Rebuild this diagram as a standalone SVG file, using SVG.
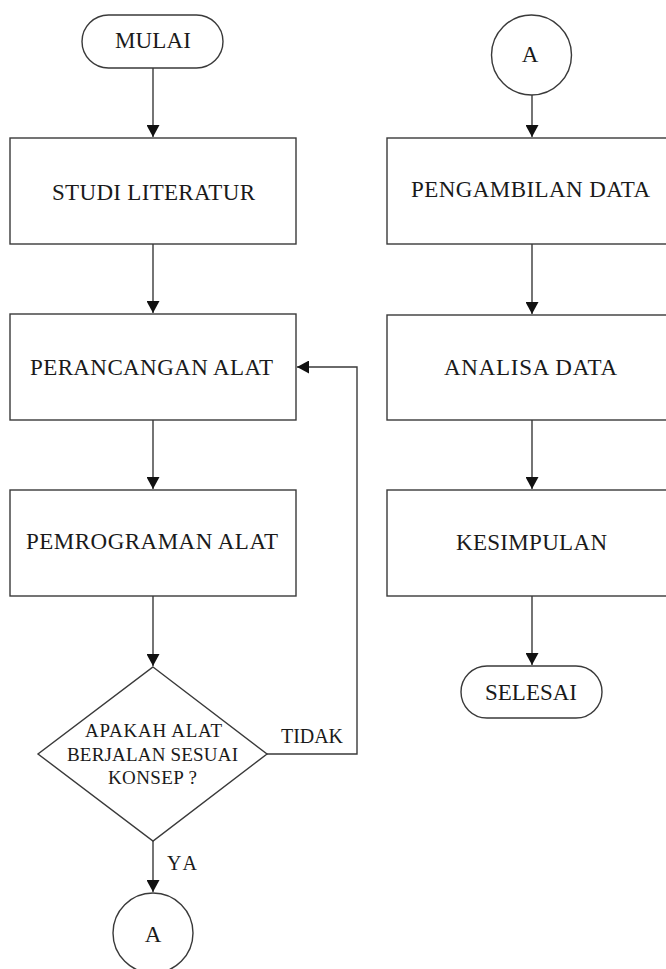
<svg xmlns="http://www.w3.org/2000/svg" width="666" height="969" viewBox="0 0 666 969">
<style>
.s{fill:#fff;stroke:#3a3a3a;stroke-width:1.4}
.t{font-family:'Liberation Serif','Times New Roman','DejaVu Serif',serif;font-size:23px;fill:#1a1a1a;text-anchor:middle}
.d{font-size:19px}
.l{font-size:20px}
.c{fill:none;stroke:#3a3a3a;stroke-width:1.4}
</style>
<defs>
<marker id="ah" markerWidth="13" markerHeight="13" refX="12" refY="6.5" orient="auto" markerUnits="userSpaceOnUse">
<path d="M0,0 L12,6.5 L0,13 Z" fill="#111"/>
</marker>
</defs>
<rect width="666" height="969" fill="#fff"/>
<g id="connectors">
<line class="c" x1="153" y1="68" x2="153" y2="137" marker-end="url(#ah)"/>
<line class="c" x1="153" y1="244" x2="153" y2="313" marker-end="url(#ah)"/>
<line class="c" x1="153" y1="420" x2="153" y2="489" marker-end="url(#ah)"/>
<line class="c" x1="153" y1="596" x2="153" y2="666" marker-end="url(#ah)"/>
<line class="c" x1="153" y1="841" x2="153" y2="892" marker-end="url(#ah)"/>
<polyline class="c" points="267,754 357,754 357,367 297,367" marker-end="url(#ah)"/>
<line class="c" x1="532" y1="95" x2="532" y2="137" marker-end="url(#ah)"/>
<line class="c" x1="532" y1="244" x2="532" y2="314" marker-end="url(#ah)"/>
<line class="c" x1="532" y1="420" x2="532" y2="489" marker-end="url(#ah)"/>
<line class="c" x1="532" y1="596" x2="532" y2="665" marker-end="url(#ah)"/>
<text class="t l" x="312" y="743" font-family="Liberation Serif, serif" textLength="62" lengthAdjust="spacing">TIDAK</text>
<text class="t l" x="182" y="870" font-family="Liberation Serif, serif" textLength="30" lengthAdjust="spacing">YA</text>
</g>
<g id="mulai">
<rect class="s" x="82" y="15" width="141" height="53" rx="26.5"/>
<text class="t" x="153" y="48" textLength="76" lengthAdjust="spacing">MULAI</text>
</g>
<g id="studi">
<rect class="s" x="10" y="138" width="286" height="106"/>
<text class="t" x="153.5" y="200" textLength="203" lengthAdjust="spacing">STUDI LITERATUR</text>
</g>
<g id="perancangan">
<rect class="s" x="10" y="314" width="286" height="106"/>
<text class="t" x="151.5" y="375" textLength="243" lengthAdjust="spacing">PERANCANGAN ALAT</text>
</g>
<g id="pemrograman">
<rect class="s" x="10" y="490" width="286" height="106"/>
<text class="t" x="152" y="549" textLength="252" lengthAdjust="spacing">PEMROGRAMAN ALAT</text>
</g>
<g id="keputusan">
<polygon class="s" points="153,667 267,754 153,841 38,754"/>
<text class="t d" x="153.5" y="737" textLength="137" lengthAdjust="spacing">APAKAH ALAT</text>
<text class="t d" x="152.5" y="761" textLength="171" lengthAdjust="spacing">BERJALAN SESUAI</text>
<text class="t d" x="152.5" y="784" textLength="89" lengthAdjust="spacing">KONSEP ?</text>
</g>
<g id="konektor-a1">
<circle class="s" cx="153" cy="933" r="40"/>
<text class="t" x="153" y="942">A</text>
</g>
<g id="konektor-a2">
<circle class="s" cx="531.5" cy="55" r="40"/>
<text class="t" x="530" y="62">A</text>
</g>
<g id="pengambilan">
<rect class="s" x="387" y="138" width="290" height="106"/>
<text class="t" x="530.5" y="197" textLength="239" lengthAdjust="spacing">PENGAMBILAN DATA</text>
</g>
<g id="analisa">
<rect class="s" x="387" y="315" width="290" height="105"/>
<text class="t" x="530.5" y="375" textLength="173" lengthAdjust="spacing">ANALISA DATA</text>
</g>
<g id="kesimpulan">
<rect class="s" x="387" y="490" width="290" height="106"/>
<text class="t" x="531.5" y="550" textLength="151" lengthAdjust="spacing">KESIMPULAN</text>
</g>
<g id="selesai">
<rect class="s" x="461" y="666" width="141" height="52" rx="26"/>
<text class="t" x="531" y="700" textLength="92" lengthAdjust="spacing">SELESAI</text>
</g>
</svg>
